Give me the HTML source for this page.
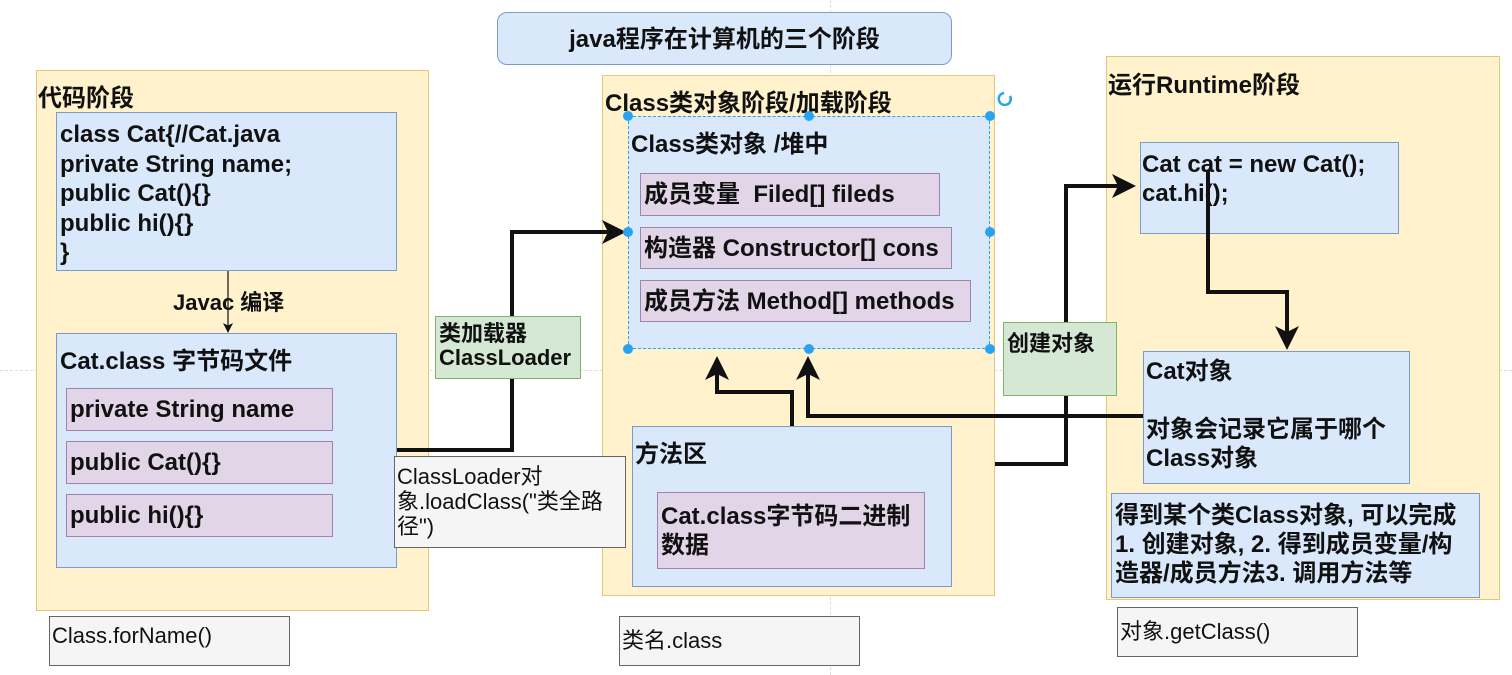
<!DOCTYPE html>
<html><head><meta charset="utf-8"><style>
body{margin:0;width:1512px;height:675px;overflow:hidden;background:#fff;position:relative;font-family:"Liberation Sans","Noto Sans CJK SC",sans-serif;font-weight:bold;color:#111;}
.b{position:absolute;box-sizing:border-box;white-space:nowrap;}
.y{background:#fff2cc;border:1.5px solid #e3c77a;}
.bl{background:#dae8fc;border:1.5px solid #7b9bc8;}
.p{background:#e1d5e7;border:1.5px solid #a083b0;font-size:24px;padding-left:3px;line-height:42px;}
.g{background:#d5e8d4;border:1.5px solid #82b366;}
.gr{background:#f5f5f5;border:1.5px solid #666;font-weight:normal;font-size:22px;}
.t{position:absolute;font-size:24px;white-space:nowrap;}
</style></head><body>
<div class="b" style="left:0;top:370px;width:1512px;border-top:1px dashed #ddd"></div>
<div class="b" style="left:830px;top:0;height:675px;border-left:1px dashed #ddd"></div>

<div class="b bl" style="left:497px;top:12px;width:455px;height:53px;border-radius:10px;text-align:center;line-height:53px;font-size:24px">java程序在计算机的三个阶段</div>

<div class="b y" style="left:36px;top:70px;width:393px;height:541px"></div>
<div class="t" style="left:38px;top:78px">代码阶段</div>
<div class="b y" style="left:602px;top:75px;width:393px;height:521px"></div>
<div class="t" style="left:605px;top:83px">Class类对象阶段/加载阶段</div>
<div class="b y" style="left:1106px;top:56px;width:394px;height:544px"></div>
<div class="t" style="left:1108px;top:65px">运行Runtime阶段</div>

<svg class="b" style="left:0;top:0;z-index:1" width="1512" height="675">
<defs><marker id="a" markerWidth="6" markerHeight="6" refX="5" refY="3" orient="auto" markerUnits="strokeWidth"><path d="M0,0 L6,3 L0,6 L1.5,3z" fill="#111"/></marker>
<marker id="s" markerWidth="10" markerHeight="10" refX="9" refY="5" orient="auto" markerUnits="userSpaceOnUse"><path d="M0,0 L10,5 L0,10 L2.5,5z" fill="#111"/></marker></defs>
<g fill="none" stroke="#111" stroke-width="4">
<polyline points="397,450 512,450 512,232 622,232" marker-end="url(#a)"/>
<polyline points="792,426 792,392 717,392 717,360" marker-end="url(#a)"/>
<polyline points="1143,416 808,416 808,360" marker-end="url(#a)"/>
<polyline points="995,464 1066,464 1066,186 1132,186" marker-end="url(#a)"/>
<polyline points="1208,170 1208,292 1287,292 1287,346" marker-end="url(#a)"/>
</g>
<line x1="228" y1="271" x2="228" y2="332" stroke="#111" stroke-width="1.2" marker-end="url(#s)"/>
</svg>

<div class="b bl" style="left:56px;top:112px;width:341px;height:159px;z-index:2"></div>
<div class="t" style="left:60px;top:120px;line-height:29.5px;z-index:3">class Cat{//Cat.java<br>private String name;<br>public Cat(){}<br>public hi(){}<br>}</div>
<div class="t" style="left:173px;top:285px;font-size:22px;z-index:0">Javac 编译</div>
<div class="b bl" style="left:56px;top:333px;width:341px;height:235px;z-index:2"></div>
<div class="t" style="left:60px;top:341px;z-index:3">Cat.class 字节码文件</div>
<div class="b p" style="left:66px;top:388px;width:267px;height:43px;z-index:3">private String name</div>
<div class="b p" style="left:66px;top:441px;width:267px;height:43px;z-index:3">public Cat(){}</div>
<div class="b p" style="left:66px;top:494px;width:267px;height:43px;z-index:3">public hi(){}</div>

<div class="b g" style="left:435px;top:316px;width:146px;height:63px;z-index:2;font-size:22px;line-height:24px;padding:5px 0 0 3px">类加载器<br>ClassLoader</div>
<div class="b gr" style="left:394px;top:456px;width:232px;height:92px;z-index:2;line-height:25px;padding:7px 0 0 2px">ClassLoader对<br>象.loadClass("类全路<br>径")</div>

<div class="b bl" style="left:628px;top:116px;width:362px;height:233px;border:1.5px dashed #29a3e6;z-index:0"></div>
<div class="t" style="left:631px;top:124px;z-index:3">Class类对象 /堆中</div>
<div class="b p" style="left:640px;top:173px;width:300px;height:43px;z-index:3">成员变量&nbsp; Filed[] fileds</div>
<div class="b p" style="left:640px;top:227px;width:312px;height:42px;z-index:3">构造器 Constructor[] cons</div>
<div class="b p" style="left:640px;top:280px;width:331px;height:42px;z-index:3">成员方法 Method[] methods</div>
<svg class="b" style="left:0;top:0;z-index:4" width="1512" height="675"><g fill="#29a3f0">
<circle cx="628" cy="116" r="5"/><circle cx="809" cy="116" r="5"/><circle cx="990" cy="116" r="5"/>
<circle cx="628" cy="232" r="5"/><circle cx="990" cy="232" r="5"/>
<circle cx="628" cy="349" r="5"/><circle cx="809" cy="349" r="5"/><circle cx="990" cy="349" r="5"/></g>
<path d="M1010,96 a6,6 0 1 1 -6,-3" fill="none" stroke="#29a3f0" stroke-width="2.5"/></svg>

<div class="b bl" style="left:632px;top:426px;width:320px;height:161px;z-index:2"></div>
<div class="t" style="left:635px;top:434px;z-index:3">方法区</div>
<div class="b p" style="left:657px;top:492px;width:268px;height:77px;z-index:3;line-height:29px;padding-top:9px">Cat.class字节码二进制<br>数据</div>

<div class="b g" style="left:1003px;top:322px;width:114px;height:74px;z-index:2;font-size:22px;padding:3px 0 0 3px">创建对象</div>

<div class="b bl" style="left:1140px;top:142px;width:259px;height:92px;z-index:0"></div>
<div class="t" style="left:1142px;top:150px;line-height:29px;z-index:3">Cat cat = new Cat();<br>cat.hi();</div>
<div class="b bl" style="left:1143px;top:351px;width:267px;height:133px;z-index:2;font-size:24px;line-height:29px;padding:5px 0 0 2px">Cat对象<br><br>对象会记录它属于哪个<br>Class对象</div>
<div class="b bl" style="left:1111px;top:493px;width:369px;height:105px;z-index:2;font-size:24px;line-height:29px;padding:7px 0 0 3px">得到某个类Class对象, 可以完成<br>1. 创建对象, 2. 得到成员变量/构<br>造器/成员方法3. 调用方法等</div>

<div class="b gr" style="left:49px;top:616px;width:241px;height:50px;padding:6px 0 0 2px">Class.forName()</div>
<div class="b gr" style="left:619px;top:616px;width:241px;height:50px;padding:6px 0 0 2px">类名.class</div>
<div class="b gr" style="left:1117px;top:607px;width:241px;height:50px;padding:6px 0 0 2px">对象.getClass()</div>
</body></html>
